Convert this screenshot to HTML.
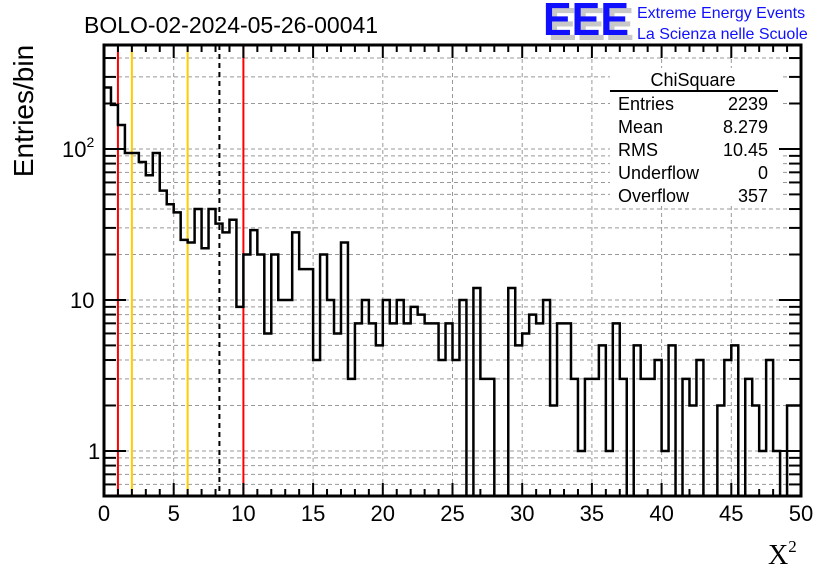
<!DOCTYPE html>
<html><head><meta charset="utf-8">
<style>
html,body{margin:0;padding:0;background:#fff;}
svg{display:block;font-family:"Liberation Sans",sans-serif;}
</style></head>
<body>
<svg id="chart" width="836" height="572" viewBox="0 0 836 572">
<rect x="0" y="0" width="836" height="572" fill="#fff"/>
<g id="grid"></g>
<g id="statsbg"></g>
<g id="vlines"></g>
<g id="hist"></g>
<g id="axes"></g>
<text x="84" y="33" font-size="23">BOLO-02-2024-05-26-00041</text>
<g>
<text x="548" y="40" font-size="46" font-weight="bold" fill="#c8c8c8" textLength="86" lengthAdjust="spacingAndGlyphs">EEE</text>
<text x="543" y="35" font-size="46" font-weight="bold" fill="#1010ff" textLength="86" lengthAdjust="spacingAndGlyphs">EEE</text>
<text x="637" y="18" font-size="16" fill="#1010ff">Extreme Energy Events</text>
<text x="637" y="39" font-size="16" fill="#1010ff">La Scienza nelle Scuole</text>
</g>
<text transform="translate(33,111) rotate(-90)" text-anchor="middle" font-size="28">Entries/bin</text>
<text x="768" y="564" font-size="28" font-family="Liberation Serif,serif">X<tspan font-size="17" dy="-12">2</tspan></text>
<g id="stats"></g>
</svg>
<script>
const binLow = 0, binWidth = 0.5;
const counts = [255,196,144,94,94,82,67,94,53,43,38,25,24,40,22,40,32,28,34,9,
20,29,20,6,20,10,10,28,16,16,4,20,10,6,24,3,7,10,7,5,
10,7,10,7,9,8,7,7,4,7,4,10,0,12,3,3,0,0,12,5,
6,8,7,10,2,7,7,3,1,3,3,5,1,7,3,0,5,3,3,4,
1,5,0,3,2,4,0,0,2,4,5,0,3,2,1,4,1,0,2,2];
const xTicks = [0,5,10,15,20,25,30,35,40,45,50];
const yMajor = [1,10,100];
const refLines = [1,2,6,8.279,10];
const refColors = ['#ff0000','#ffcc00','#ffcc00','#000','#ff0000'];
const statLabels = ['Entries','Mean','RMS','Underflow','Overflow'];
const statValues = ['2239','8.279','10.45','0','357'];

const L=104,R=801,T=45,B=496, xMin=0,xMax=50, yMinLog=Math.log10(0.503), yMaxLog=Math.log10(488);
const X=v=>L+(v-xMin)/(xMax-xMin)*(R-L);
const Y=v=>B-(Math.log10(v)-yMinLog)/(yMaxLog-yMinLog)*(B-T);
const NS='http://www.w3.org/2000/svg';
function mk(tag,attrs,parent){const e=document.createElementNS(NS,tag);for(const k in attrs)e.setAttribute(k,attrs[k]);parent.appendChild(e);return e;}
const grid=document.getElementById('grid'),axes=document.getElementById('axes');
xTicks.forEach(t=>{if(t>xMin&&t<xMax){const l=mk('line',{x1:X(t),x2:X(t),y1:T,y2:B,stroke:'#999','stroke-width':1,'stroke-dasharray':'4,3'},grid);

}});
const yMinor=[];
for(let d=0.1;d<=100;d*=10){for(let m=1;m<10;m++){const v=Math.round(d*m*1000)/1000;const lv=Math.log10(v);if(lv>yMinLog&&lv<yMaxLog)yMinor.push(v);}}
yMinor.forEach(v=>{const l=mk('line',{x1:L,x2:R,y1:Y(v),y2:Y(v),stroke:'#999','stroke-width':1,'stroke-dasharray':'4,3'},grid);

});
const sb=mk('rect',{x:610,y:68,width:170,height:136,fill:'#fff'},document.getElementById('statsbg'));


refLines.forEach((v,i)=>{const l=mk('line',{x1:X(v),x2:X(v),y1:T,y2:B,stroke:refColors[i],'stroke-width':2},document.getElementById('vlines'));
if(i===3)l.setAttribute('stroke-dasharray','5,4');

});
let d='', started=false;
counts.forEach((c,i)=>{const x0=X(binLow+i*binWidth),x1=X(binLow+(i+1)*binWidth);const y=c>0?Math.min(Y(c),B):B;
if(!started){d+='M'+x0+','+y;started=true;}else d+='L'+x0+','+y;d+='L'+x1+','+y;});
const hp=mk('path',{d:d,fill:'none',stroke:'#000','stroke-width':2.5},document.getElementById('hist'));


const fr=mk('rect',{x:L,y:T,width:R-L,height:B-T,fill:'none',stroke:'#000','stroke-width':3},axes);


for(let t=xMin;t<=xMax;t++){const len=(t%5===0)?13:7;
mk('line',{x1:X(t),x2:X(t),y1:B,y2:B-len,stroke:'#000','stroke-width':2},axes);
mk('line',{x1:X(t),x2:X(t),y1:T,y2:T+len,stroke:'#000','stroke-width':2},axes);}
xTicks.forEach(t=>{const tx=mk('text',{x:X(t),y:521,'text-anchor':'middle','font-size':22},axes);tx.textContent=t;

});
yMinor.forEach(v=>{const len=yMajor.includes(v)?22:12;
mk('line',{x1:L,x2:L+len,y1:Y(v),y2:Y(v),stroke:'#000','stroke-width':2},axes);
mk('line',{x1:R,x2:R-len,y1:Y(v),y2:Y(v),stroke:'#000','stroke-width':2},axes);});
const yl=[['1',88,''],['10',70,''],['10',62,'2']];
yMajor.forEach((v,i)=>{const tx=mk('text',{x:yl[i][1],y:Y(v)+8,'font-size':22},axes);tx.textContent=yl[i][0];
if(yl[i][2]){const ts=mk('tspan',{'font-size':14,dy:-10},tx);ts.textContent=yl[i][2];}

});
const st=document.getElementById('stats');
const ttl=mk('text',{x:693,y:86,'text-anchor':'middle','font-size':18},st);ttl.textContent='ChiSquare';


mk('line',{x1:610,x2:778,y1:91,y2:91,stroke:'#000','stroke-width':2},st);
statLabels.forEach((s,i)=>{const a=mk('text',{x:618,y:110+i*23,'font-size':18},st);a.textContent=s;


const b=mk('text',{x:768,y:110+i*23,'text-anchor':'end','font-size':18},st);b.textContent=statValues[i];

});
</script>
</body></html>
